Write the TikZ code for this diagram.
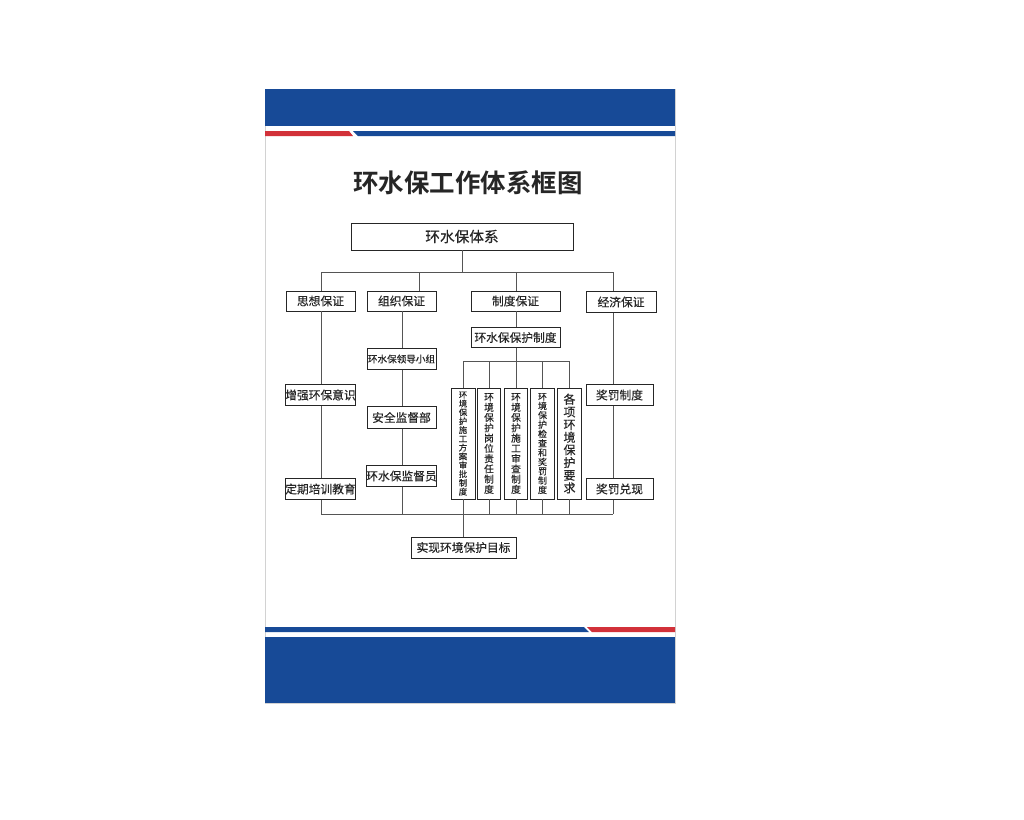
\documentclass[tikz,border=0pt]{standalone}
\usepackage{fontspec}
\newfontfamily\cjk[FakeBold=0.35]{Noto Sans CJK SC}
\newfontfamily\cjkbold{Noto Sans CJK SC Bold}
\definecolor{bandblue}{HTML}{174A97}
\definecolor{bandred}{HTML}{D23139}
\definecolor{wire}{HTML}{555555}
\tikzset{
    box/.style={draw=black!85, line width=0.6pt, fill=white, inner sep=0pt,
        font=\cjk\fontsize{8.8}{10}\selectfont, text=black!85},
    vbox/.style={box, minimum width=17.5pt, minimum height=83.25pt, align=center},
    link/.style={draw=wire, line width=0.6pt},
}
\begin{document}
\begin{tikzpicture}[x=0.75pt, y=-0.75pt]
    \useasboundingbox (0,0) rectangle (1024,819);
    % poster
    \draw[gray!35, fill=white] (265,89) rectangle (675,703);
    \fill[bandblue] (265,89) rectangle (675,126);
    \fill[bandred] (265,131) -- (349,131) -- (353,136) -- (265,136) -- cycle;
    \fill[bandblue] (353,131) -- (675,131) -- (675,136) -- (358,136) -- cycle;
    \fill[bandblue] (265,627) -- (584,627) -- (589,632) -- (265,632) -- cycle;
    \fill[bandred] (587,627) -- (675,627) -- (675,632) -- (592,632) -- cycle;
    \fill[bandblue] (265,637) rectangle (675,703);
    % title
    \node (title) at (468,183) {\cjkbold\fontsize{19.1}{20}\selectfont\color{black!85}环水保工作体系框图};
    % boxes
    \node[box, minimum width=166.5pt, minimum height=20.25pt,
        font=\cjk\fontsize{11}{12}\selectfont] (top) at (462,236.5) {环水保体系};
    \node[box, minimum width=51.75pt, minimum height=15pt] (sx) at (320.5,301) {思想保证};
    \node[box, minimum width=51.75pt, minimum height=15pt] (zz) at (401.5,301) {组织保证};
    \node[box, minimum width=66.75pt, minimum height=15pt] (zd) at (515.5,301) {制度保证};
    \node[box, minimum width=52.5pt, minimum height=15.75pt] (jj) at (621,302) {经济保证};
    \node[box, minimum width=51.75pt, minimum height=16pt] (zq) at (320.5,395) {增强环保意识};
    \node[box, minimum width=51.75pt, minimum height=15.5pt] (dq) at (320.5,489) {定期培训教育};
    \node[box, minimum width=51.75pt, minimum height=16pt,
        font=\cjk\fontsize{7.2}{9}\selectfont] (ld) at (401.5,359) {环水保领导小组};
    \node[box, minimum width=51.75pt, minimum height=16pt] (aq) at (401.5,417.5) {安全监督部};
    \node[box, minimum width=51.75pt, minimum height=15.5pt] (jd) at (401.5,476) {环水保监督员};
    \node[box, minimum width=66.75pt, minimum height=15.5pt] (bh) at (515.5,337.5) {环水保保护制度};
    \node[vbox, minimum width=18pt, font=\cjk\fontsize{6.3}{6.6}\selectfont] (v1) at (463,443.5)
        {环\\境\\保\\护\\施\\工\\方\\案\\审\\批\\制\\度};
    \node[vbox, font=\cjk\fontsize{7.3}{7.7}\selectfont] (v2) at (489,443.5)
        {环\\境\\保\\护\\岗\\位\\责\\任\\制\\度};
    \node[vbox, font=\cjk\fontsize{7.3}{7.7}\selectfont] (v3) at (516,443.5)
        {环\\境\\保\\护\\施\\工\\审\\查\\制\\度};
    \node[vbox, font=\cjk\fontsize{6.7}{7}\selectfont] (v4) at (542.5,443.5)
        {环\\境\\保\\护\\检\\查\\和\\奖\\罚\\制\\度};
    \node[vbox, font=\cjk\fontsize{9}{9.5}\selectfont] (v5) at (569.5,443.5)
        {各\\项\\环\\境\\保\\护\\要\\求};
    \node[box, minimum width=50.25pt, minimum height=16pt] (jz) at (619.5,395) {奖罚制度};
    \node[box, minimum width=50.25pt, minimum height=15.5pt] (jx) at (619.5,489) {奖罚兑现};
    \node[box, minimum width=78.75pt, minimum height=15.75pt] (mb) at (463.5,547.5) {实现环境保护目标};
    % bus coordinates
    \coordinate (upL) at (321,272);
    \coordinate (upR) at (613,272);
    \coordinate (midL) at (463,361);
    \coordinate (midR) at (570,361);
    \coordinate (lowL) at (321,514);
    \coordinate (lowR) at (613,514);
    % upper bus
    \draw[link] (top.south) -- (top.south |- upL);
    \draw[link] (upL) -- (upR);
    \draw[link] (upL) -- (upL |- sx.north);
    \draw[link] (419,272) -- (419,0 |- zz.north);
    \draw[link] (516,272) -- (516,0 |- zd.north);
    \draw[link] (upR) -- (upR |- jj.north);
    % columns
    \draw[link] (321,0 |- sx.south) -- (321,0 |- zq.north);
    \draw[link] (321,0 |- zq.south) -- (321,0 |- dq.north);
    \draw[link] (321,0 |- dq.south) -- (lowL);
    \draw[link] (402,0 |- zz.south) -- (402,0 |- ld.north);
    \draw[link] (402,0 |- ld.south) -- (402,0 |- aq.north);
    \draw[link] (402,0 |- aq.south) -- (402,0 |- jd.north);
    \draw[link] (402,0 |- jd.south) -- (402,514);
    \draw[link] (613,0 |- jj.south) -- (613,0 |- jz.north);
    \draw[link] (613,0 |- jz.south) -- (613,0 |- jx.north);
    \draw[link] (613,0 |- jx.south) -- (lowR);
    % system branch
    \draw[link] (516,0 |- zd.south) -- (516,0 |- bh.north);
    \draw[link] (516,0 |- bh.south) -- (516,361);
    \draw[link] (midL) -- (midR);
    \foreach \v in {v1,v2,v3,v4,v5} {
        \draw[link] (\v.north |- midL) -- (\v.north);
        \draw[link] (\v.south) -- (\v.south |- lowL);
    }
    % lower bus
    \draw[link] (lowL) -- (lowR);
    \draw[link] (v1.south) -- (v1.south |- mb.north);
\end{tikzpicture}
\end{document}
